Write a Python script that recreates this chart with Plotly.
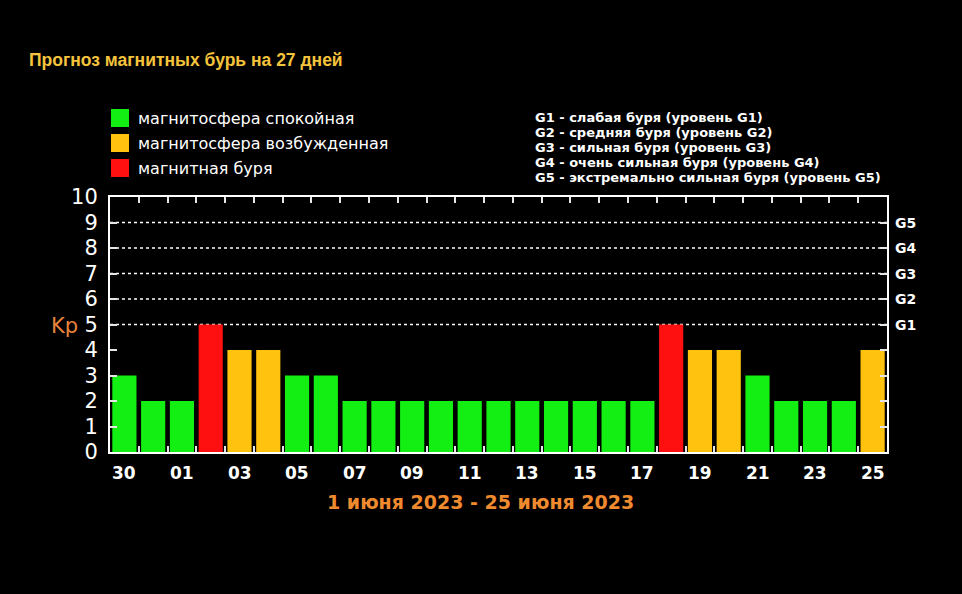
import plotly.graph_objects as go

# ---- data ----
days = ["30", "31", "01", "02", "03", "04", "05", "06", "07", "08", "09", "10", "11", "12",
        "13", "14", "15", "16", "17", "18", "19", "20", "21", "22", "23", "24", "25"]
kp = [3, 2, 2, 5, 4, 4, 3, 3, 2, 2, 2, 2, 2, 2, 2, 2, 2, 2, 2, 5, 4, 4, 3, 2, 2, 2, 4]
kp_ticks = list(range(0, 11))
g_levels = [5, 6, 7, 8, 9]
g_labels = ["G1", "G2", "G3", "G4", "G5"]
legend_items = ["магнитосфера спокойная", "магнитосфера возбужденная", "магнитная буря"]
g_legend = [
    "G1 - слабая буря (уровень G1)",
    "G2 - средняя буря (уровень G2)",
    "G3 - сильная буря (уровень G3)",
    "G4 - очень сильная буря (уровень G4)",
    "G5 - экстремально сильная буря (уровень G5)",
]
title = "Прогноз магнитных бурь на 27 дней"
period = "1 июня 2023 - 25 июня 2023"

GREEN, ORANGE, RED = "#13ee13", "#ffc20e", "#ff1010"
state_colors = [GREEN, ORANGE, RED]
TICK = "#e6e6e6"


def color_for(v):
    if v >= 5:
        return RED
    if v == 4:
        return ORANGE
    return GREEN


W, H = 962, 594
L, R, T, B = 110, 887, 197, 452


def px(x):
    return (x - L) / (R - L)


def py(y):
    return (B - y) / (B - T)


idx = list(range(len(days)))
shown = [0] + idx[2::2]
bounds = [i + 0.5 for i in idx[:-1]]
xr = [-0.5, len(days) - 0.5]

fig = go.Figure()
fig.add_trace(go.Bar(x=idx, y=kp, marker=dict(color=[color_for(v) for v in kp], line=dict(width=0)),
                     showlegend=False, hoverinfo="skip"))

fig.update_layout(
    width=W, height=H,
    paper_bgcolor="black", plot_bgcolor="black",
    margin=dict(l=L, r=W - R, t=T, b=H - B, pad=0),
    bargap=0.16,
    xaxis=dict(
        range=xr,
        tickmode="array", tickvals=bounds, showticklabels=False,
        ticks="inside", ticklen=6, tickcolor=TICK, tickwidth=2,
        showgrid=False, zeroline=False,
        showline=True, linecolor="white", linewidth=2, mirror="ticks",
    ),
    yaxis=dict(
        range=[0, 10], tickmode="array", tickvals=kp_ticks,
        ticks="inside", ticklen=7, tickcolor=TICK, tickwidth=2,
        showgrid=False, zeroline=False,
        showline=True, linecolor="white", linewidth=2, mirror="ticks",
        tickfont=dict(family="DejaVu Sans", size=21, color="white"),
        ticklabelstandoff=6,
    ),
    showlegend=False,
)

# dotted gridlines at G levels
for v in g_levels:
    fig.add_shape(type="line", xref="paper", yref="y", x0=0, x1=1, y0=v, y1=v,
                  line=dict(color="white", width=1.5, dash="dot"), layer="below")

anns = []
# x tick labels (every other day)
for i in shown:
    anns.append(dict(text=days[i], x=i, xref="x", y=py(473), yref="paper",
                     xanchor="center", yanchor="middle",
                     font=dict(family="DejaVu Sans", size=17, color="white", weight="bold")))
# G scale labels on the right
for v, g in zip(g_levels, g_labels):
    anns.append(dict(text=g, x=1, xref="paper", y=v, yref="y", xanchor="left", yanchor="middle",
                     xshift=6, font=dict(family="DejaVu Sans", size=14, color="white", weight="bold")))
anns.append(dict(text=title, x=px(27), y=py(60), xanchor="left", yanchor="middle",
                 font=dict(family="Liberation Sans", size=17.5, color="#f5c43c", weight="bold")))
# legend
for i, (lab, col) in enumerate(zip(legend_items, state_colors)):
    yc = 118 + i * 25
    fig.add_shape(type="rect", xref="paper", yref="paper", x0=px(111), x1=px(129),
                  y0=py(yc - 9), y1=py(yc + 9), fillcolor=col, line=dict(width=0))
    anns.append(dict(text=lab, x=px(136), y=py(yc), xanchor="left", yanchor="middle",
                     font=dict(family="DejaVu Sans", size=16, color="white")))
for i, lab in enumerate(g_legend):
    anns.append(dict(text=lab, x=px(533), y=py(117 + i * 15), xanchor="left", yanchor="middle",
                     font=dict(family="DejaVu Sans", size=13, color="white", weight="bold")))
anns.append(dict(text="Kp", x=px(64), y=py(326), xanchor="center", yanchor="middle",
                 font=dict(family="DejaVu Sans", size=21, color="#e8843c")))
anns.append(dict(text=period, x=px(480), y=py(502), xanchor="center", yanchor="middle",
                 font=dict(family="DejaVu Sans", size=19, color="#ef8a2e", weight="bold")))
for a in anns:
    a.setdefault("xref", "paper")
    a.setdefault("yref", "paper")
    a["showarrow"] = False
fig.update_layout(annotations=anns)

fig.write_html(
    "out.html",
    config={"displayModeBar": False},
    post_script="document.body.style.margin='0';document.body.style.background='black';"
                "document.documentElement.style.background='black';",
)
